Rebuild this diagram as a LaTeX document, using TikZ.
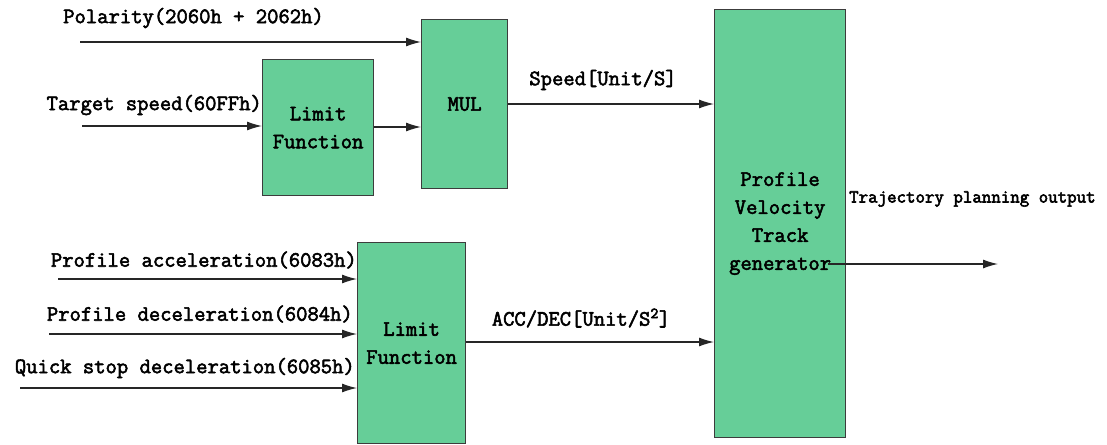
\documentclass[tikz,border=0pt]{standalone}
\usetikzlibrary{arrows.meta}
\definecolor{boxgreen}{RGB}{102,206,152}
\definecolor{edge}{RGB}{60,60,60}
\newcommand\fkb{\special{pdf:literal direct 2 Tr 0.55 w}}
\begin{document}
\begin{tikzpicture}[x=1pt,y=-1pt,
  box/.style={draw=edge, line width=1.2pt, fill=boxgreen, inner sep=0pt, anchor=north west,
     align=center, font=\fontsize{22}{28}\selectfont\ttfamily\fkb},
  lab/.style={inner sep=0pt, font=\fontsize{22}{26}\selectfont\ttfamily\fkb},
  smalllab/.style={inner sep=0pt, font=\fontsize{18.4}{22}\selectfont\ttfamily\fkb},
  arr/.style={draw=black!85, line width=1.2pt, -{Latex[length=15pt,width=9pt]}}]
\useasboundingbox (0,0) rectangle (1107,444);
% boxes
\node[box, minimum width=111pt, minimum height=136pt] (lim1) at (262,59) {Limit\\Function};
\node[box, minimum width=86pt, minimum height=169pt] (mul) at (421,19) {MUL};
\node[box, minimum width=108pt, minimum height=201pt] (lim2) at (357,242) {Limit\\Function};
\node[box, minimum width=131pt, minimum height=428pt] (pvt) at (714,9) {Profile\\Velocity\\Track\\generator};
% input coordinates
\coordinate (pol) at (80,42);
\coordinate (tsp) at (82,126);
\coordinate (pacc) at (58,279);
\coordinate (pdec) at (49,334);
\coordinate (qs) at (20,388);
\coordinate (outs) at (828,264);
\coordinate (oute) at (998,264);
% labels
\node[lab] (lpol) at (193.5,18) {Polarity(2060h + 2062h)};
\node[lab, anchor=east] (ltsp) at (262,105) {Target speed(60FFh)};
\node[lab] (lspd) at (603,80) {Speed[Unit/S]};
\node[lab, anchor=east] (lpacc) at (357,260) {Profile acceleration(6083h)};
\node[lab, anchor=east] (lpdec) at (353,314) {Profile deceleration(6084h)};
\node[lab, anchor=east] (lqs) at (355,368) {Quick stop deceleration(6085h)};
\node[lab] (lacc) at (581,318) {ACC/DEC[Unit/S\textsuperscript{2}]};
\node[smalllab, anchor=west] (lout) at (849,199) {Trajectory planning output};
% arrows
\draw[arr] (pol) -- (pol -| mul.west);
\draw[arr] (tsp) -- (tsp -| lim1.west);
\draw[arr] (lim1.east |- 0,127) -- (mul.west |- 0,127);
\draw[arr] (mul.east |- 0,104) -- (pvt.west |- 0,104);
\draw[arr] (pacc) -- (pacc -| lim2.west);
\draw[arr] (pdec) -- (pdec -| lim2.west);
\draw[arr] (qs) -- (qs -| lim2.west);
\draw[arr] (lim2.east |- 0,342) -- (pvt.west |- 0,342);
\draw[arr] (outs) -- (oute);
\end{tikzpicture}
\end{document}
